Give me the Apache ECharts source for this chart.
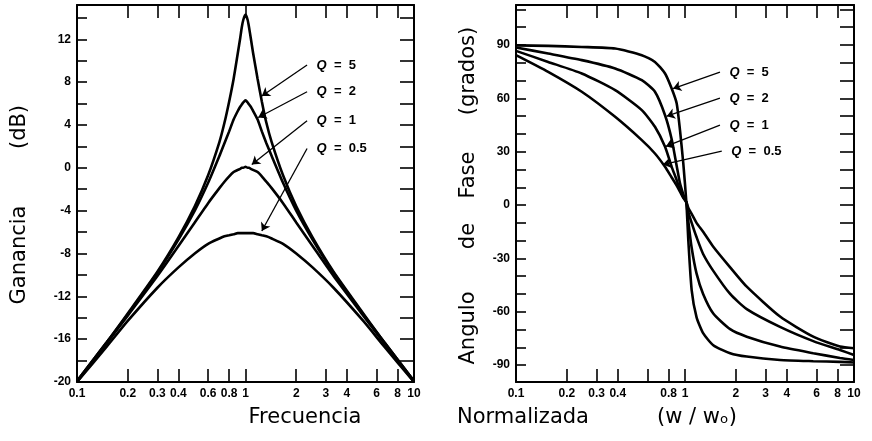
<!DOCTYPE html>
<html>
<head>
<meta charset="utf-8">
<style>
  html, body { margin: 0; padding: 0; background: #fff; }
  #chart { width: 872px; height: 441px; }
</style>
<script src="https://cdn.jsdelivr.net/npm/echarts@6/dist/echarts.min.js"></script>
</head>
<body>
<div id="chart"></div>
<script>
// frecuencia normalizada (w / wo) para las curvas de ganancia
const gainFreq = [0.1, 0.15, 0.2, 0.3, 0.4, 0.5, 0.6, 0.7, 0.75, 0.8, 0.85, 0.9, 0.93, 0.95, 0.97, 1,
  1.03, 1.05, 1.075, 1.11, 1.18, 1.25, 1.33, 1.43, 1.67, 2, 2.5, 3.33, 5, 6.67, 10];
// ganancia (dB)
const gainQ5 = [-19.9, -16.3, -13.6, -9.7, -6.5, -3.6, -0.7, 2.4, 4.2, 6.2, 8.3, 10.7, 12.1, 13.1, 13.8, 14.3,
  13.8, 13.1, 12.1, 10.7, 8.3, 6.2, 4.2, 2.4, -0.7, -3.6, -6.5, -9.7, -13.6, -16.3, -19.9];
const gainQ2 = [-19.9, -16.3, -13.7, -9.8, -6.7, -4.0, -1.4, 1.1, 2.3, 3.4, 4.5, 5.3, 5.7, 5.9, 6.1, 6.3,
  6.1, 5.9, 5.7, 5.3, 4.5, 3.4, 2.3, 1.1, -1.4, -4.0, -6.7, -9.8, -13.7, -16.3, -19.9];
const gainQ1 = [-20.0, -16.4, -13.8, -10.1, -7.3, -5.1, -3.3, -1.9, -1.3, -0.8, -0.4, -0.2, -0.1, 0, 0, 0.1,
  0, 0, -0.1, -0.2, -0.4, -0.8, -1.3, -1.9, -3.3, -5.1, -7.3, -10.1, -13.8, -16.4, -20.0];
const gainQ05 = [-20.0, -16.7, -14.3, -11.2, -9.3, -8.0, -7.1, -6.6, -6.4, -6.3, -6.2, -6.1, -6.1, -6.1, -6.1, -6.1,
  -6.1, -6.1, -6.1, -6.1, -6.2, -6.3, -6.4, -6.6, -7.1, -8.0, -9.3, -11.2, -14.3, -16.7, -20.0];

// frecuencia normalizada para las curvas de fase
const phaseFreq = [0.1, 0.155, 0.245, 0.386, 0.555, 0.664, 0.762, 0.834, 0.893, 0.934, 0.977, 1.02,
  1.046, 1.095, 1.17, 1.28, 1.47, 1.85, 2.32, 3.65, 5.74, 8.26, 10];
// angulo de fase (grados)
const phaseQ5 = [89.8, 89.5, 88.9, 88.0, 84.3, 80.5, 74.0, 65.5, 57.1, 42.1, 23.4, 1.0,
  -19.7, -47.8, -63.0, -72.0, -78.8, -83.3, -85.2, -87.1, -87.8, -88.2, -88.5];
const phaseQ2 = [88.6, 85.2, 81.5, 76.8, 70.2, 63.7, 50.5, 37.0, 22.0, 12.2, 6.0, 1.0,
  -9.0, -24.0, -38.4, -50.0, -61.0, -69.8, -74.0, -79.6, -83.3, -86.0, -87.1];
const phaseQ1 = [86.7, 80.5, 74.0, 64.6, 53.4, 44.0, 32.8, 21.5, 14.0, 8.4, 4.5, 1.5,
  -4.0, -10.0, -18.0, -27.5, -37.0, -50.0, -58.5, -68.5, -76.5, -81.5, -84.3];
const phaseQ05 = [84.3, 74.9, 63.7, 49.6, 36.5, 29.0, 21.5, 15.5, 11.0, 7.5, 4.0, 1.5,
  -1.5, -5.0, -10.0, -15.0, -23.4, -35.0, -45.9, -62.7, -74.0, -79.6, -80.5];

// ticks y etiquetas
const freqTicks = [0.1, 0.2, 0.3, 0.4, 0.6, 0.8, 1, 2, 3, 4, 6, 8, 10];
const freqLabelsGain = [0.1, 0.2, 0.3, 0.4, 0.6, 0.8, 1, 2, 3, 4, 6, 8, 10];
const freqLabelsPhase = [0.1, 0.2, 0.3, 0.4, 0.8, 1, 2, 3, 4, 6, 8, 10];
const gainTicks = [-20, -18, -16, -14, -12, -10, -8, -6, -4, -2, 0, 2, 4, 6, 8, 10, 12, 14];
const gainLabels = [-20, -16, -12, -8, -4, 0, 4, 8, 12];
const phaseTicks = [-90, -80, -70, -60, -50, -40, -30, -20, -10, 0, 10, 20, 30, 40, 50, 60, 70, 80, 90, 100, 110];
const phaseLabels = [-90, -60, -30, 0, 30, 60, 90];

// flechas: [texto, cola, punta, curvatura]
const gainArrows = [
  ['5', [2.32, 9.6], [1.25, 6.7], -0.12],
  ['2', [2.32, 7.1], [1.19, 4.7], -0.12],
  ['1', [2.32, 4.4], [1.09, 0.3], -0.15],
  ['0.5', [2.32, 1.8], [1.25, -5.9], -0.25]
];
const phaseArrows = [
  ['5', [1.61, 74.7], [0.85, 65.5], -0.06],
  ['2', [1.61, 60.1], [0.78, 50.0], -0.06],
  ['1', [1.61, 44.9], [0.77, 33.0], -0.06],
  ['0.5', [1.65, 30.3], [0.74, 22.8], -0.06]
];

const labelFont = '"Liberation Sans Narrow", "Liberation Sans", Arial, sans-serif';
const titleFont = '"DejaVu Sans", sans-serif';

function fmtFreq (v) {
  return String(+(+v).toPrecision(2));
}

function xAxisPair (gridIndex, labels) {
  const base = {
    type: 'log',
    logBase: 10,
    gridIndex: gridIndex,
    min: 0.1,
    max: 10,
    splitLine: { show: false },
    minorTick: { show: false },
    axisLine: { onZero: false, lineStyle: { color: '#000', width: 2 } }
  };
  return [
    Object.assign({}, base, {
      position: 'bottom',
      axisTick: { inside: true, length: 13, customValues: freqTicks, lineStyle: { color: '#000', width: 1.6 } },
      axisLabel: {
        customValues: labels,
        formatter: fmtFreq,
        color: '#000',
        fontFamily: labelFont,
        fontWeight: 'bold',
        fontSize: 12,
        margin: 6
      }
    }),
    Object.assign({}, base, {
      position: 'top',
      axisTick: { inside: true, length: 13, customValues: freqTicks, lineStyle: { color: '#000', width: 1.6 } },
      axisLabel: { show: false }
    })
  ];
}

function yAxisPair (gridIndex, min, max, ticks, labels) {
  const base = {
    type: 'value',
    gridIndex: gridIndex,
    min: min,
    max: max,
    splitLine: { show: false },
    axisLine: { show: true, onZero: false, lineStyle: { color: '#000', width: 2 } }
  };
  return [
    Object.assign({}, base, {
      position: 'left',
      axisTick: { inside: true, length: 10, customValues: ticks, lineStyle: { color: '#000', width: 1.6 } },
      axisLabel: {
        customValues: labels,
        color: '#000',
        fontFamily: labelFont,
        fontWeight: 'bold',
        fontSize: 12,
        margin: 6
      }
    }),
    Object.assign({}, base, {
      position: 'right',
      axisTick: { inside: true, length: 14, customValues: ticks, lineStyle: { color: '#000', width: 1.6 } },
      axisLabel: { show: false }
    })
  ];
}

function curve (name, freq, vals, xi, yi, arrow) {
  const s = {
    name: name,
    type: 'line',
    xAxisIndex: xi,
    yAxisIndex: yi,
    data: freq.map((f, i) => [f, vals[i]]),
    symbol: 'none',
    smooth: 0.2,
    lineStyle: { color: '#000', width: 2.6 },
    silent: true
  };
  if (arrow) {
    s.markLine = {
      silent: true,
      symbol: ['none', 'arrow'],
      symbolSize: 8,
      animation: false,
      lineStyle: { color: '#000', width: 1.3, type: 'solid', curveness: arrow[3] },
      label: { show: false },
      data: [[{ coord: arrow[1] }, { coord: arrow[2] }]]
    };
    s.markPoint = {
      silent: true,
      animation: false,
      symbol: 'circle',
      symbolSize: 1,
      itemStyle: { color: 'rgba(0,0,0,0)' },
      label: {
        show: true,
        position: 'right',
        distance: 9,
        formatter: '{q|Q}  =  ' + arrow[0],
        color: '#000',
        fontFamily: labelFont,
        fontWeight: 'bold',
        fontSize: 13,
        rich: {
          q: { fontStyle: 'italic', fontWeight: 'bold', fontSize: 13, fontFamily: labelFont, color: '#000' }
        }
      },
      data: [{ coord: arrow[1] }]
    };
  }
  return s;
}

function word (text, x, y, rot) {
  return {
    type: 'text',
    x: x,
    y: y,
    rotation: rot || 0,
    style: {
      text: text,
      fill: '#000',
      font: '21px ' + titleFont,
      align: 'center',
      verticalAlign: 'middle'
    }
  };
}

const chart = echarts.init(document.getElementById('chart'));
chart.setOption({
  animation: false,
  backgroundColor: '#fff',
  grid: [
    { left: 77, top: 5, width: 337, height: 377 },
    { left: 516, top: 5, width: 338, height: 377 }
  ],
  xAxis: xAxisPair(0, freqLabelsGain).concat(xAxisPair(1, freqLabelsPhase)),
  yAxis: yAxisPair(0, -20, 15.2, gainTicks, gainLabels).concat(yAxisPair(1, -99.5, 112.5, phaseTicks, phaseLabels)),
  series: [
    curve('Q = 5', gainFreq, gainQ5, 0, 0, gainArrows[0]),
    curve('Q = 2', gainFreq, gainQ2, 0, 0, gainArrows[1]),
    curve('Q = 1', gainFreq, gainQ1, 0, 0, gainArrows[2]),
    curve('Q = 0.5', gainFreq, gainQ05, 0, 0, gainArrows[3]),
    curve('Q = 5', phaseFreq, phaseQ5, 2, 2, phaseArrows[0]),
    curve('Q = 2', phaseFreq, phaseQ2, 2, 2, phaseArrows[1]),
    curve('Q = 1', phaseFreq, phaseQ1, 2, 2, phaseArrows[2]),
    curve('Q = 0.5', phaseFreq, phaseQ05, 2, 2, phaseArrows[3])
  ],
  graphic: [
    word('Ganancia', 20, 255, Math.PI / 2),
    word('(dB)', 20, 127, Math.PI / 2),
    word('Angulo', 469, 328, Math.PI / 2),
    word('de', 469, 236, Math.PI / 2),
    word('Fase', 469, 175, Math.PI / 2),
    word('(grados)', 469, 71, Math.PI / 2),
    word('Frecuencia', 305, 418),
    word('Normalizada', 523, 418),
    word('(w / wₒ)', 697, 418)
  ]
});
</script>
</body>
</html>
